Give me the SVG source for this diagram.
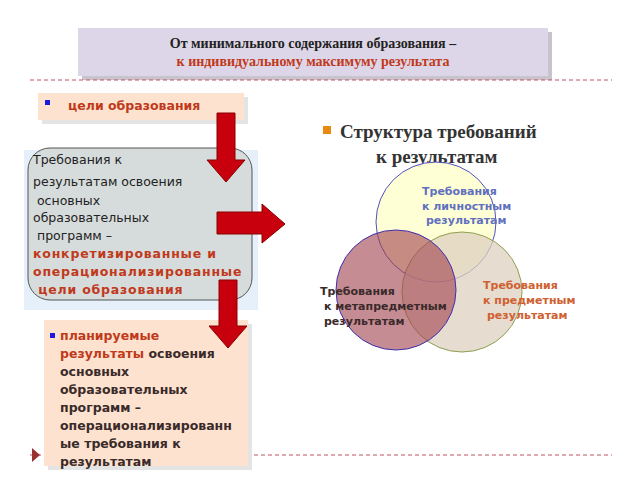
<svg xmlns="http://www.w3.org/2000/svg" width="640" height="480" viewBox="0 0 640 480">
<style>
.s{font-family:"DejaVu Sans",sans-serif;font-size:12.5px}
.b{font-weight:bold}
.r{fill:#c0391b}
.d{fill:#3a2a2a}
.arr{fill:#c8000e;stroke:#8a0000;stroke-width:1}
</style>
<rect width="640" height="480" fill="#fff"/>
<g id="title">
<rect x="82" y="32" width="470" height="48" fill="#c8c3cc"/>
<rect x="78" y="28" width="470" height="48" fill="#ddd6e8"/>
<text x="313" y="48" text-anchor="middle" font-family="Liberation Serif,serif" font-weight="bold" font-size="14" fill="#222">От минимального содержания образования –</text>
<text x="313" y="66" text-anchor="middle" font-family="Liberation Serif,serif" font-weight="bold" font-size="14" fill="#c0391b">к индивидуальному максимуму результата</text>
</g>
<line x1="30" y1="80" x2="612" y2="80" stroke="#c05060" stroke-dasharray="4,3"/>
<line x1="30" y1="455" x2="612" y2="455" stroke="#c05060" stroke-dasharray="4,3"/>
<polygon points="32,448 40,455 32,462" fill="#9a3030"/>
<g id="goals">
<rect x="42" y="97" width="206" height="27" fill="#e4e4e4"/>
<rect x="38" y="93" width="206" height="27" fill="#fde3cf"/>
<rect x="45" y="100" width="5" height="5" fill="#1a1ae0"/>
<text x="68" y="110" class="s b r">цели образования</text>
</g>
<g id="req">
<rect x="24" y="150" width="234" height="160" fill="#e6f0fa"/>
<rect x="28" y="148" width="224" height="152" rx="22" fill="#d6dcdb" stroke="#555"/>
<text class="s" fill="#222"><tspan x="33" y="164">Требования к</tspan><tspan x="33" y="186">результатам освоения</tspan><tspan x="33" y="205"> основных</tspan><tspan x="33" y="222">образовательных</tspan><tspan x="33" y="240"> программ –</tspan></text>
<text class="s b r" letter-spacing="0.8"><tspan x="33" y="258">конкретизированные и</tspan><tspan x="33" y="276">операционализированные</tspan><tspan x="33" y="294">  цели образования</tspan></text>
</g>
<g id="planned">
<rect x="48" y="324" width="204" height="146" fill="#e4e4e4"/>
<rect x="44" y="320" width="204" height="146" fill="#fde3cf"/>
<rect x="50" y="333" width="5" height="5" fill="#1a1ae0"/>
<text class="s b" fill="#3a2a2a"><tspan x="60" y="340" fill="#c0391b">  планируемые</tspan><tspan x="60" y="358" fill="#c0391b">результаты<tspan fill="#3a2a2a"> освоения</tspan></tspan><tspan x="60" y="376">основных</tspan><tspan x="60" y="394">образовательных</tspan><tspan x="60" y="412">программ –</tspan><tspan x="60" y="430">операционализированн</tspan><tspan x="60" y="448">ые требования к</tspan><tspan x="60" y="466">результатам</tspan></text>
</g>
<g id="connectors">
<polygon class="arr" points="217,113 235,113 235,160 245,160 226,182 207,160 217,160"/>
<polygon class="arr" points="217,212 262,212 262,204 285,224 262,243 262,234 217,234"/>
<polygon class="arr" points="219,280 237,280 237,326 247,326 228,348 209,326 219,326"/>
</g>
<g id="structure">
<rect x="323" y="126" width="8" height="8" fill="#e88a10"/>
<text font-family="Liberation Serif,serif" font-weight="bold" font-size="19" fill="#333"><tspan x="340" y="138">Структура требований</tspan><tspan x="376" y="163">к результатам</tspan></text>
</g>
<g id="venn">
<circle cx="436" cy="222" r="60" fill="#ffffd0" fill-opacity="0.9" stroke="#5050c0"/>
<circle cx="462" cy="292" r="60" fill="#ddd0c0" fill-opacity="0.75" stroke="#90a050"/>
<circle cx="396" cy="290" r="60" fill="#a0404c" fill-opacity="0.6" stroke="#4030b0"/>
<text font-family="DejaVu Sans,sans-serif" font-weight="bold" font-size="11" fill="#6070c0"><tspan x="422" y="195">Требования</tspan><tspan x="422" y="210">к личностным</tspan><tspan x="426" y="224">результатам</tspan></text>
<text font-family="DejaVu Sans,sans-serif" font-weight="bold" font-size="11" fill="#d06030"><tspan x="483" y="289">Требования</tspan><tspan x="483" y="304">к предметным</tspan><tspan x="487" y="319">результатам</tspan></text>
<text font-family="DejaVu Sans,sans-serif" font-weight="bold" font-size="11" fill="#3a2a2a"><tspan x="320" y="295">Требования</tspan><tspan x="324" y="310">к метапредметным</tspan><tspan x="324" y="325">результатам</tspan></text>
</g>
</svg>
